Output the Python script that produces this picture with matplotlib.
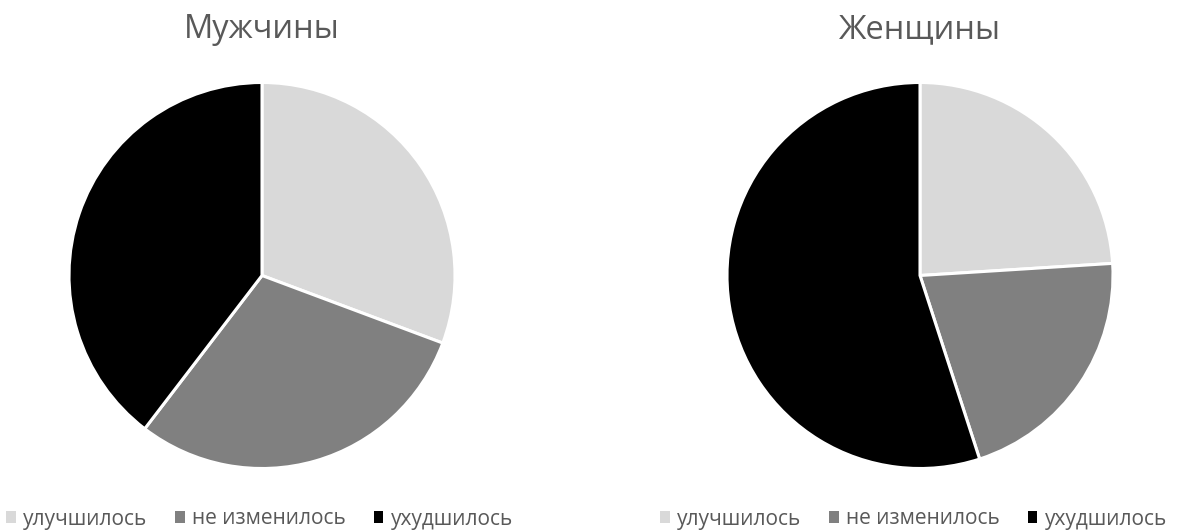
import matplotlib
matplotlib.use("Agg")
import matplotlib.pyplot as plt

plt.rcParams['font.family'] = ['Open Sans', 'DejaVu Sans']

categories = ["улучшилось", "не изменилось", "ухудшилось"]
colors = ["#D9D9D9", "#808080", "#000000"]
titles = ["Мужчины", "Женщины"]
men = [31, 30, 40]
women = [24, 21, 55]

W, H = 1184, 531
fig = plt.figure(figsize=(W / 100, H / 100), dpi=100)
fig.patch.set_facecolor("white")

R = 193  # pie radius in pixels
centers = [(262, 275.5), (920, 275.5)]
legend_x = [259.5, 913.5]

for (cx, cy), lx, title, values in zip(centers, legend_x, titles, [men, women]):
    ax = fig.add_axes([(cx - R) / W, (H - cy - R) / H, 2 * R / W, 2 * R / H])
    wedges, _ = ax.pie(values, colors=colors, startangle=90, counterclock=False,
                       radius=1.0,
                       wedgeprops=dict(edgecolor="white", linewidth=2.2))
    ax.set_xlim(-1, 1)
    ax.set_ylim(-1, 1)
    ax.set_aspect("equal")
    fig.text(cx / W, (H - 30) / H, title, ha="center", va="center",
             fontsize=23.5, color="#595959")
    leg = fig.legend(wedges, categories, loc="center", ncol=3,
                     bbox_to_anchor=(lx / W, (H - 519) / H), frameon=False,
                     fontsize=15, labelcolor="#595959",
                     handlelength=0.45, handleheight=0.45, handletextpad=0.35,
                     columnspacing=1.35, borderpad=0, borderaxespad=0)
    for h in leg.legend_handles:
        h.set_edgecolor("none")

fig.savefig("out.png", dpi=100, facecolor="white")
